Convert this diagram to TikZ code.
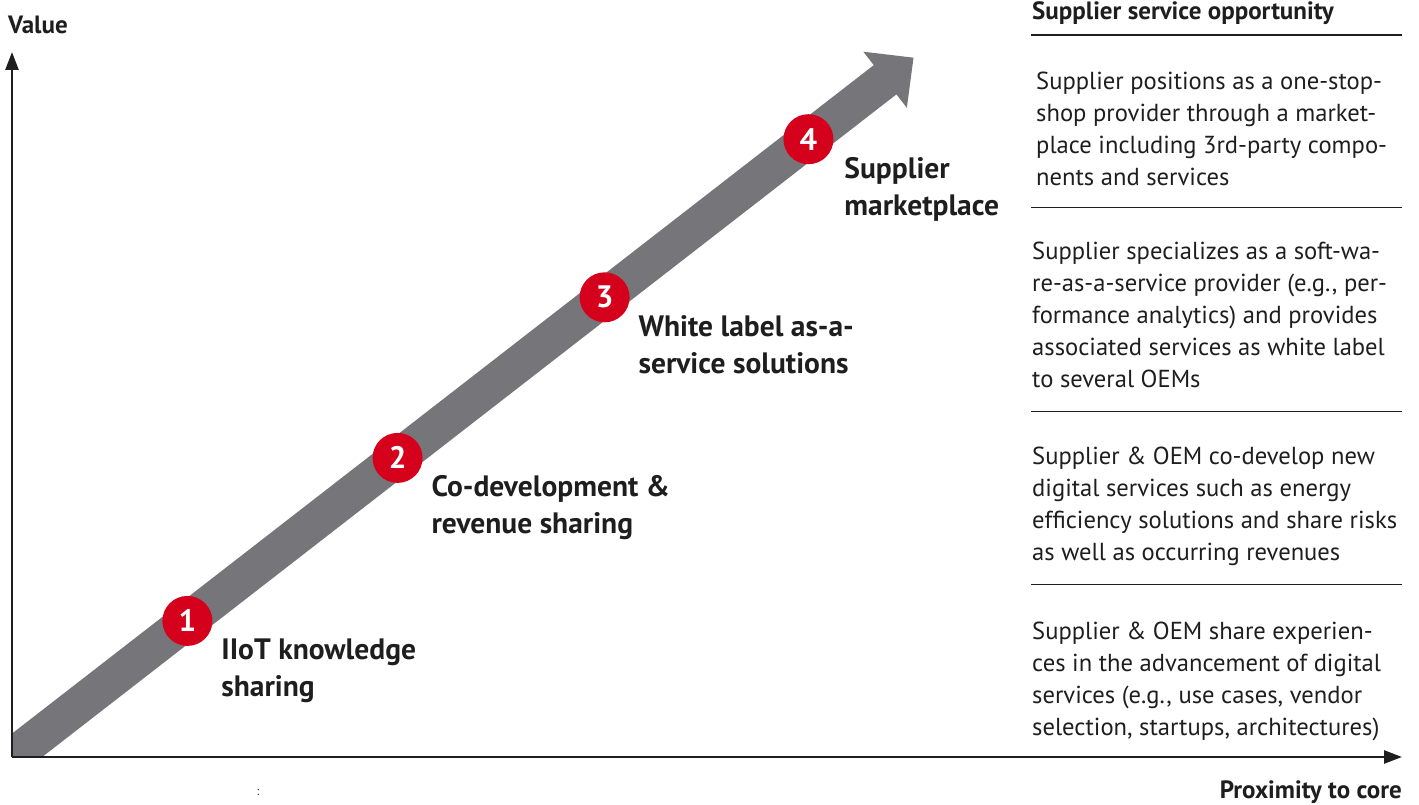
\documentclass[tikz,border=0pt]{standalone}
\usepackage{fontspec}
\setmainfont{PT Sans}
\usetikzlibrary{calc,positioning,arrows.meta}
\definecolor{stepred}{HTML}{D5001C}
\definecolor{bandgray}{HTML}{76757A}
\definecolor{ink}{HTML}{1E1E1E}

\tikzset{
  axis/.style={line width=2.6pt, draw=ink, -{Triangle[length=18pt,width=13pt]}},
  stepdot/.style={circle, fill=stepred, minimum size=50pt, inner sep=0pt, text=white,
    font=\fontsize{31}{31}\selectfont\bfseries},
  lbl/.style={inner sep=0pt, align=left, text=ink, font=\fontsize{29.5}{37}\selectfont\bfseries},
  desc/.style={anchor=north west, inner sep=0pt, align=left, text=ink, font=\fontsize{24.6}{32}\selectfont},
  title/.style={inner sep=0pt, text=ink, font=\fontsize{25}{25}\selectfont\bfseries},
  rule/.style={draw=ink, line width=1pt},
}

\begin{document}
\begin{tikzpicture}[x=1pt,y=1pt]
\useasboundingbox (0,0) rectangle (1419,805);
\coordinate (O) at (12,48);
\coordinate (ytop) at (12,753);
\coordinate (xend) at (1402,48);

% grey band
\begin{scope}
\clip (12,48) rectangle (1419,805);
\fill[bandgray, shift={(O)}, rotate=37.8]
  (-60,-18.5) -- (1105,-18.5) -- (1105,-35.5) -- (1141,0)
  -- (1105,35.5) -- (1105,18.5) -- (-60,18.5) -- cycle;
\end{scope}

% steps
\begin{scope}[shift={(O)}, rotate=37.8]
\node[stepdot] (n1) at (222,0) {1};
\node[stepdot] (n2) at (488,0) {2};
\node[stepdot] (n3) at (750,0) {3};
\node[stepdot] (n4) at (1008,0) {4};
\end{scope}

\node[lbl, below right=0pt and 16pt of n1.south east] (l1) {IIoT knowledge\\sharing};
\node[lbl, below right=0pt and 16pt of n2.south east] (l2) {Co-development \&\\revenue sharing};
\node[lbl, below right=0pt and 16pt of n3.south east] (l3) {White label as-a-\\service solutions};
\node[lbl, below right=0pt and 18pt of n4.south east] (l4) {Supplier\\marketplace};

% axes
\draw[axis] (O) -- (ytop);
\draw[axis] (O) -- (xend);
\node[title, anchor=west] (yl) at (8,780) {Value};
\node[title, anchor=east] (xl) at (1402,13) {Proximity to core};
\node[text=ink, font=\fontsize{12}{12}\selectfont] (colon) at (258,12) {:};

% right column
\node[title, anchor=west] (head) at (1032,792) {Supplier service opportunity};
\draw[ink, line width=2pt] (1031,770) -- (1402,770);

\node[desc] (d4) at (1036,733) {Supplier positions as a one-stop-\\shop provider through a market-\\place including 3rd-party compo-\\nents and services};
\draw[rule] (1031,597) -- (1402,597);
\node[desc] (d3) at (1032,563) {Supplier specializes as a soft-wa-\\re-as-a-service provider (e.g., per-\\formance analytics) and provides\\associated services as white label\\to several OEMs};
\draw[rule] (1031,393) -- (1402,393);
\node[desc] (d2) at (1032,358) {Supplier \& OEM co-develop new\\digital services such as energy\\efficiency solutions and share risks\\as well as occurring revenues};
\draw[rule] (1031,220) -- (1402,220);
\node[desc] (d1) at (1032,183) {Supplier \& OEM share experien-\\ces in the advancement of digital\\services (e.g., use cases, vendor\\selection, startups, architectures)};

\end{tikzpicture}
\end{document}
